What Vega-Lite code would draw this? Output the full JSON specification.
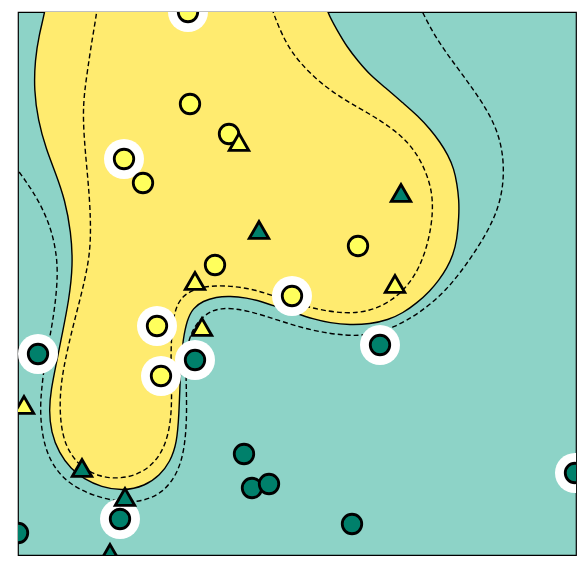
{
  "$schema": "https://vega.github.io/schema/vega-lite/v6.json",
  "width": 558,
  "height": 543,
  "autosize": "none",
  "padding": {"left": 18, "top": 12, "right": 11, "bottom": 18},
  "background": "white",
  "view": {"fill": "#8dd3c7", "stroke": "black", "strokeWidth": 1.2},
  "datasets": {
    "region": [
      {"i":0,"x":48,"y":-10},{"i":1,"x":321,"y":-10},{"i":2,"x":327,"y":12},{"i":3,"x":337,"y":30},{"i":4,"x":347,"y":47},{"i":5,"x":358,"y":61},{"i":6,"x":370,"y":75},{"i":7,"x":387,"y":89},{"i":8,"x":403,"y":103},{"i":9,"x":418,"y":116},{"i":10,"x":430,"y":129},{"i":11,"x":440,"y":142},{"i":12,"x":448,"y":155},{"i":13,"x":454,"y":169},{"i":14,"x":457,"y":184},{"i":15,"x":459,"y":200},{"i":16,"x":459,"y":216},{"i":17,"x":457,"y":240},{"i":18,"x":453,"y":255},{"i":19,"x":447,"y":268},{"i":20,"x":439,"y":280},{"i":21,"x":430,"y":291},{"i":22,"x":417,"y":303},{"i":23,"x":403,"y":313},{"i":24,"x":388,"y":320},{"i":25,"x":370,"y":324},{"i":26,"x":350,"y":325},{"i":27,"x":330,"y":323},{"i":28,"x":313,"y":319},{"i":29,"x":295,"y":313},{"i":30,"x":277,"y":307},{"i":31,"x":260,"y":301},{"i":32,"x":247,"y":298},{"i":33,"x":230,"y":296},{"i":34,"x":216,"y":297},{"i":35,"x":203,"y":301},{"i":36,"x":193,"y":308},{"i":37,"x":187,"y":320},{"i":38,"x":183,"y":340},{"i":39,"x":181,"y":360},{"i":40,"x":180,"y":385},{"i":41,"x":179,"y":413},{"i":42,"x":177,"y":443},{"i":43,"x":170,"y":462},{"i":44,"x":160,"y":475},{"i":45,"x":145,"y":486},{"i":46,"x":123,"y":491},{"i":47,"x":101,"y":487},{"i":48,"x":84,"y":479},{"i":49,"x":71,"y":469},{"i":50,"x":59,"y":453},{"i":51,"x":51,"y":432},{"i":52,"x":49,"y":410},{"i":53,"x":51,"y":390},{"i":54,"x":56,"y":365},{"i":55,"x":62,"y":335},{"i":56,"x":69,"y":300},{"i":57,"x":73,"y":265},{"i":58,"x":71,"y":232},{"i":59,"x":65,"y":200},{"i":60,"x":56,"y":174},{"i":61,"x":46,"y":149},{"i":62,"x":38,"y":120},{"i":63,"x":34,"y":90},{"i":64,"x":35,"y":60},{"i":65,"x":39,"y":35},{"i":66,"x":45,"y":12},{"i":67,"x":48,"y":-10}
    ],
    "inner": [
      {"i":0,"x":99,"y":-10},{"i":1,"x":97,"y":12},{"i":2,"x":92,"y":40},{"i":3,"x":88,"y":67},{"i":4,"x":84,"y":95},{"i":5,"x":83,"y":118},{"i":6,"x":85,"y":150},{"i":7,"x":90,"y":200},{"i":8,"x":91,"y":240},{"i":9,"x":88,"y":265},{"i":10,"x":82,"y":292},{"i":11,"x":72,"y":330},{"i":12,"x":64,"y":365},{"i":13,"x":60,"y":392},{"i":14,"x":60,"y":420},{"i":15,"x":65,"y":446},{"i":16,"x":79,"y":466},{"i":17,"x":99,"y":477},{"i":18,"x":121,"y":479},{"i":19,"x":143,"y":473},{"i":20,"x":161,"y":456},{"i":21,"x":170,"y":430},{"i":22,"x":172,"y":400},{"i":23,"x":171,"y":370},{"i":24,"x":171,"y":340},{"i":25,"x":174,"y":311},{"i":26,"x":182,"y":296},{"i":27,"x":195,"y":289},{"i":28,"x":213,"y":285},{"i":29,"x":247,"y":287},{"i":30,"x":280,"y":298},{"i":31,"x":313,"y":309},{"i":32,"x":347,"y":314},{"i":33,"x":370,"y":311},{"i":34,"x":390,"y":302},{"i":35,"x":407,"y":287},{"i":36,"x":420,"y":267},{"i":37,"x":429,"y":240},{"i":38,"x":433,"y":213},{"i":39,"x":432,"y":192},{"i":40,"x":427,"y":175},{"i":41,"x":419,"y":157},{"i":42,"x":406,"y":140},{"i":43,"x":390,"y":127},{"i":44,"x":370,"y":114},{"i":45,"x":346,"y":101},{"i":46,"x":320,"y":83},{"i":47,"x":300,"y":63},{"i":48,"x":287,"y":45},{"i":49,"x":278,"y":25},{"i":50,"x":273,"y":12},{"i":51,"x":266,"y":-10}
    ],
    "outer": [
      {"i":0,"x":-5,"y":140},{"i":1,"x":18,"y":170},{"i":2,"x":37,"y":197},{"i":3,"x":50,"y":225},{"i":4,"x":56,"y":250},{"i":5,"x":58,"y":274},{"i":6,"x":55,"y":307},{"i":7,"x":50,"y":337},{"i":8,"x":45,"y":361},{"i":9,"x":42,"y":385},{"i":10,"x":40,"y":408},{"i":11,"x":42,"y":436},{"i":12,"x":50,"y":462},{"i":13,"x":67,"y":483},{"i":14,"x":93,"y":496},{"i":15,"x":120,"y":502},{"i":16,"x":141,"y":502},{"i":17,"x":163,"y":493},{"i":18,"x":178,"y":473},{"i":19,"x":185,"y":447},{"i":20,"x":187,"y":413},{"i":21,"x":186,"y":380},{"i":22,"x":186,"y":355},{"i":23,"x":190,"y":333},{"i":24,"x":203,"y":315},{"i":25,"x":220,"y":307},{"i":26,"x":247,"y":310},{"i":27,"x":280,"y":321},{"i":28,"x":313,"y":331},{"i":29,"x":347,"y":336},{"i":30,"x":370,"y":335},{"i":31,"x":393,"y":328},{"i":32,"x":420,"y":313},{"i":33,"x":447,"y":290},{"i":34,"x":469,"y":261},{"i":35,"x":487,"y":233},{"i":36,"x":499,"y":207},{"i":37,"x":504,"y":180},{"i":38,"x":503,"y":153},{"i":39,"x":497,"y":130},{"i":40,"x":487,"y":110},{"i":41,"x":473,"y":89},{"i":42,"x":456,"y":66},{"i":43,"x":437,"y":40},{"i":44,"x":422,"y":12},{"i":45,"x":413,"y":-10}
    ],
    "points": [
      {"x":188,"y":12,"cls":"A","shape":"circle","sv":true},
      {"x":190,"y":104,"cls":"A","shape":"circle","sv":false},
      {"x":229,"y":134,"cls":"A","shape":"circle","sv":false},
      {"x":124,"y":159,"cls":"A","shape":"circle","sv":true},
      {"x":143,"y":183,"cls":"A","shape":"circle","sv":false},
      {"x":215,"y":265,"cls":"A","shape":"circle","sv":false},
      {"x":358,"y":246,"cls":"A","shape":"circle","sv":false},
      {"x":292,"y":296,"cls":"A","shape":"circle","sv":true},
      {"x":157,"y":326,"cls":"A","shape":"circle","sv":true},
      {"x":161,"y":376,"cls":"A","shape":"circle","sv":true},
      {"x":195,"y":360,"cls":"B","shape":"circle","sv":true},
      {"x":38,"y":354,"cls":"B","shape":"circle","sv":true},
      {"x":380,"y":345,"cls":"B","shape":"circle","sv":true},
      {"x":244,"y":454,"cls":"B","shape":"circle","sv":false},
      {"x":252,"y":488,"cls":"B","shape":"circle","sv":false},
      {"x":269,"y":484,"cls":"B","shape":"circle","sv":false},
      {"x":352,"y":524,"cls":"B","shape":"circle","sv":false},
      {"x":120,"y":519,"cls":"B","shape":"circle","sv":true},
      {"x":575,"y":473,"cls":"B","shape":"circle","sv":true},
      {"x":18,"y":533,"cls":"B","shape":"circle","sv":false},
      {"x":239,"y":142,"cls":"A","shape":"triangle-up","sv":false},
      {"x":401,"y":193,"cls":"B","shape":"triangle-up","sv":false},
      {"x":259,"y":230,"cls":"B","shape":"triangle-up","sv":false},
      {"x":195,"y":281,"cls":"A","shape":"triangle-up","sv":false},
      {"x":202,"y":327,"cls":"A","shape":"triangle-up","sv":false},
      {"x":395,"y":284,"cls":"A","shape":"triangle-up","sv":false},
      {"x":24,"y":405,"cls":"A","shape":"triangle-up","sv":false},
      {"x":82,"y":468,"cls":"B","shape":"triangle-up","sv":false},
      {"x":125,"y":497,"cls":"B","shape":"triangle-up","sv":false},
      {"x":110,"y":553,"cls":"B","shape":"triangle-up","sv":false}
    ]
  },
  "encoding": {
    "x": {"field": "x", "type": "quantitative", "scale": {"domain": [18, 576], "nice": false, "zero": false}, "axis": null},
    "y": {"field": "y", "type": "quantitative", "scale": {"domain": [12, 555], "nice": false, "zero": false, "reverse": true}, "axis": null}
  },
  "layer": [
    {
      "data": {"name": "region"},
      "mark": {"type": "line", "fill": "#ffeb6f", "stroke": "black", "strokeWidth": 1.4, "interpolate": "basis", "clip": true},
      "encoding": {"order": {"field": "i", "type": "quantitative"}}
    },
    {
      "data": {"name": "inner"},
      "mark": {"type": "line", "stroke": "black", "strokeWidth": 1.4, "strokeDash": [5, 3], "interpolate": "basis", "clip": true},
      "encoding": {"order": {"field": "i", "type": "quantitative"}}
    },
    {
      "data": {"name": "outer"},
      "mark": {"type": "line", "stroke": "black", "strokeWidth": 1.4, "strokeDash": [5, 3], "interpolate": "basis", "clip": true},
      "encoding": {"order": {"field": "i", "type": "quantitative"}}
    },
    {
      "data": {"name": "points"},
      "transform": [{"filter": "datum.sv"}],
      "mark": {"type": "point", "shape": "circle", "filled": true, "fill": "white", "opacity": 1, "size": 1600, "strokeWidth": 0, "clip": true}
    },
    {
      "data": {"name": "points"},
      "mark": {"type": "point", "filled": true, "opacity": 1, "stroke": "black", "strokeWidth": 2.8, "size": 380, "clip": true},
      "encoding": {
        "shape": {"field": "shape", "type": "nominal", "scale": {"domain": ["circle", "triangle-up"], "range": ["circle", "triangle-up"]}, "legend": null},
        "fill": {"field": "cls", "type": "nominal", "scale": {"domain": ["A", "B"], "range": ["#ffff5c", "#00806b"]}, "legend": null}
      }
    }
  ]
}
